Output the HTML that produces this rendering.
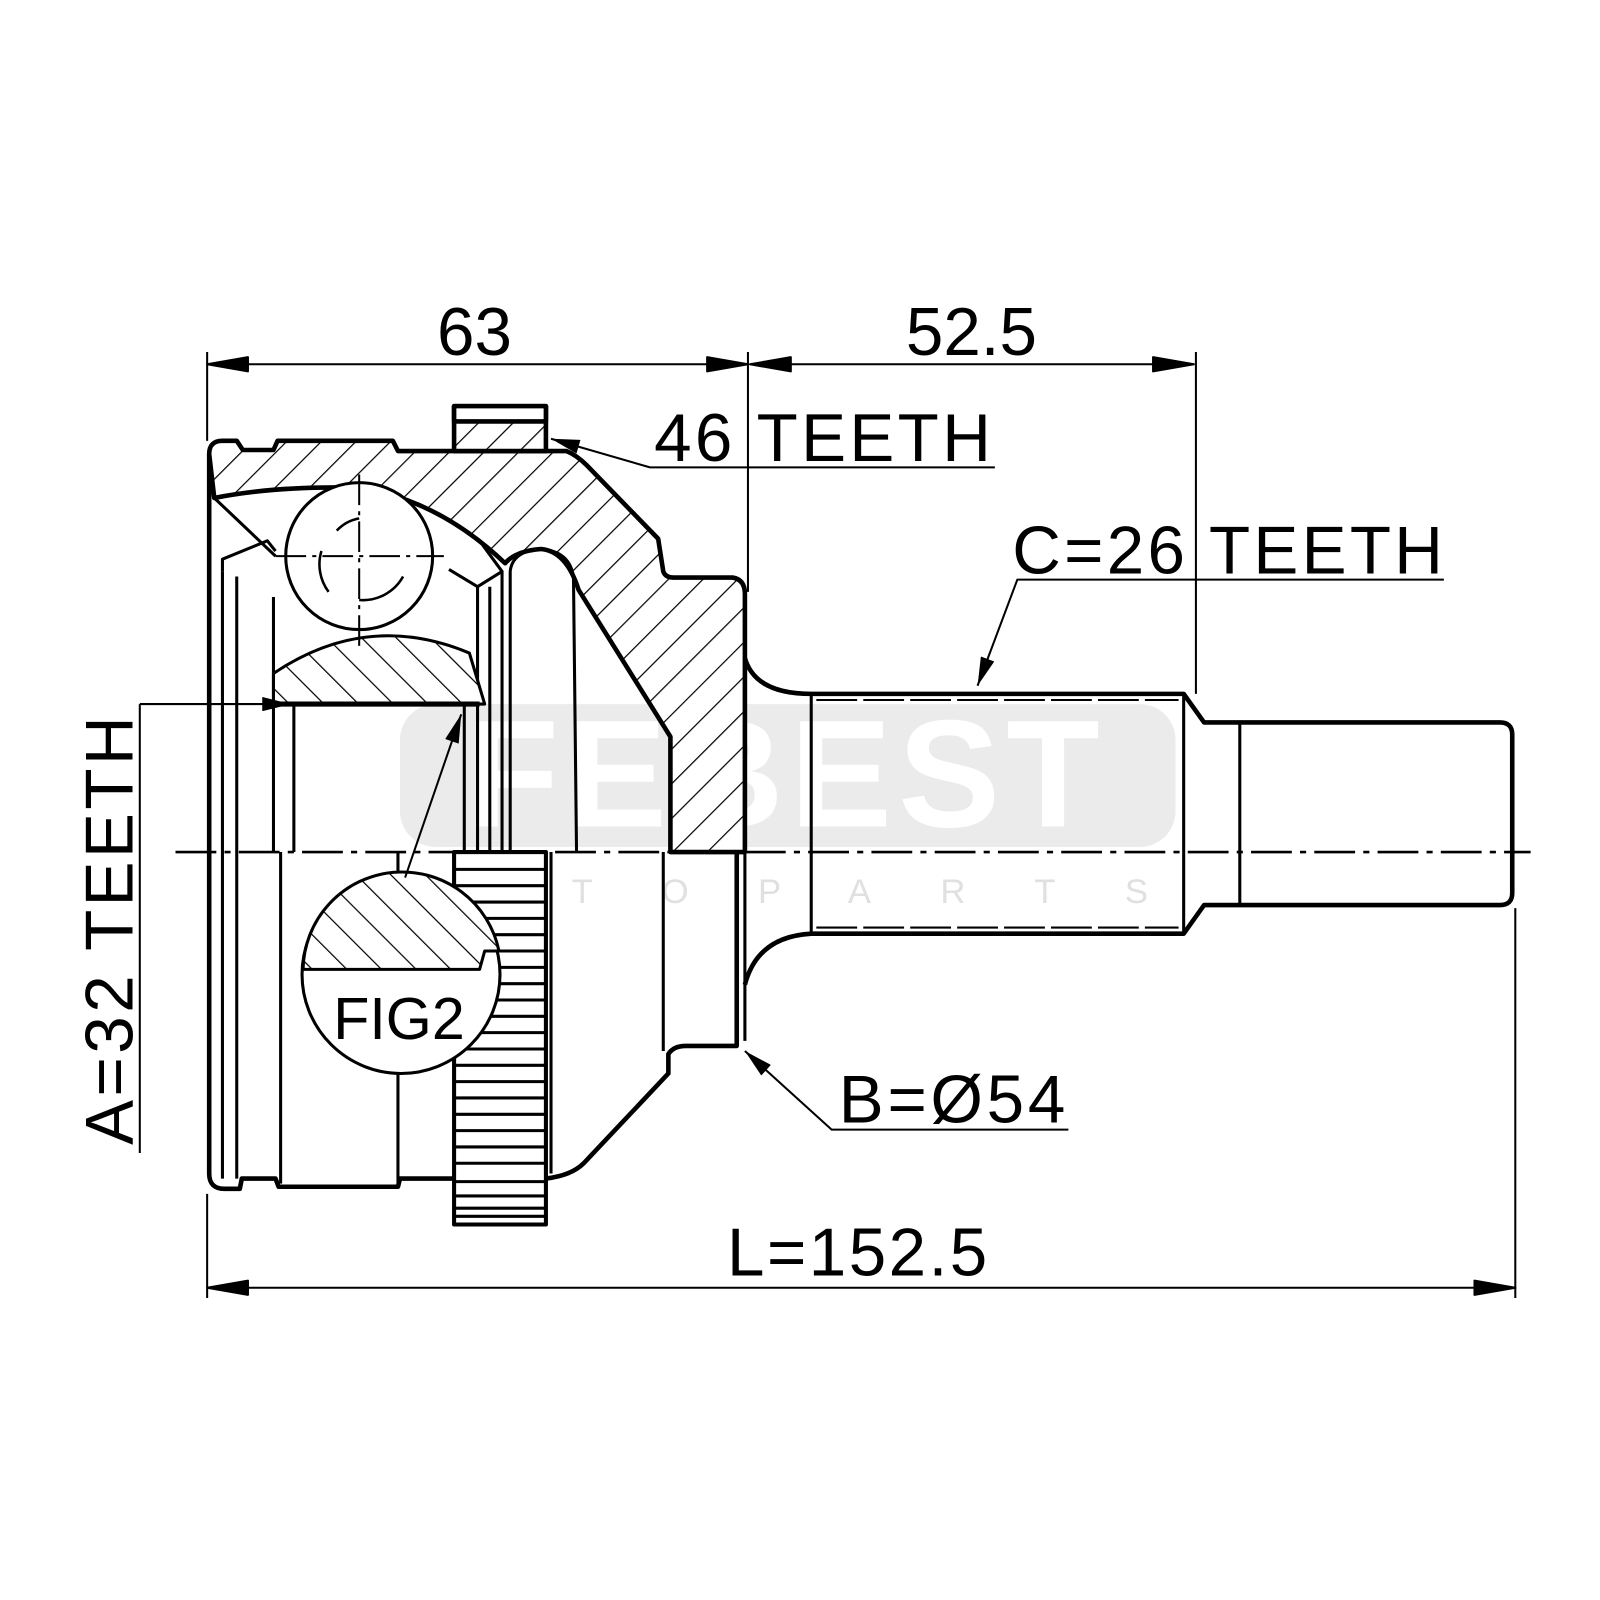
<!DOCTYPE html>
<html><head><meta charset="utf-8"><style>html,body{margin:0;padding:0;background:#fff}svg{display:block}</style></head>
<body>
<svg width="1600" height="1600" viewBox="0 0 1568 1568" xmlns="http://www.w3.org/2000/svg" font-family="Liberation Sans, Arial, sans-serif">
<defs>
<pattern id="h" patternUnits="userSpaceOnUse" width="24" height="24" patternTransform="rotate(45)">
<rect width="24" height="24" fill="#fff"/><line x1="0" y1="0" x2="0" y2="24" stroke="#000" stroke-width="2.4"/></pattern>
<pattern id="h2" patternUnits="userSpaceOnUse" width="24" height="24" patternTransform="rotate(-45)">
<rect width="24" height="24" fill="#fff"/><line x1="0" y1="0" x2="0" y2="24" stroke="#000" stroke-width="2.4"/></pattern>
<marker id="a" viewBox="0 0 20 10" refX="20" refY="5" markerWidth="40" markerHeight="14" markerUnits="userSpaceOnUse" orient="auto"><path d="M0,0 L20,5 L0,10 Z" fill="#000"/></marker>
</defs>
<rect width="1568" height="1568" fill="#fff"/>
<!-- watermark -->
<g>
<rect x="392" y="690" width="760" height="140" rx="35" fill="#ebebeb"/>
<text x="770" y="810" font-size="150" font-weight="bold" text-anchor="middle" fill="#fff" letter-spacing="6">FEBEST</text>
<text x="785" y="885" font-size="34" text-anchor="middle" fill="#e0e0e0" letter-spacing="68">AUTOPARTS</text>
</g>
<g stroke="#000" fill="none" stroke-width="4.5" stroke-linejoin="round">
<path fill="url(#h)" d="M205,445 Q205,432 218,432 L232,432 L238,441 L268,441 L272,432 L385,432 L390,442 L555,442 Q565,446 575,456 L645,528 L650,560 Q652,566 660,566 L718,566 Q730,568 730,582 L730,835 L657,835 L657,722 L567,578 Q555,540 530,538 Q505,540 495,552 Q430,490 352,478 Q270,476 210,488 Z"/>
<rect x="445" y="398" width="90" height="44" fill="url(#h)"/>
<rect x="445" y="398" width="90" height="15" fill="#fff"/>
<path d="M205,445 L205,1150 Q205,1165 220,1165 L235,1165 L237,1155 L270,1155 L273,1163 L390,1163 L392,1155 L445,1155"/>
<path d="M535,1155 Q560,1152 572,1140 L655,1052 L655,1033 Q660,1025 672,1025 L722,1025 L722,835"/>
<path d="M730,835 L730,1020" stroke-width="3"/>
<path d="M730,645 Q740,680 795,680 L1160,680 L1180,708 L1470,708 Q1482,708 1482,720 L1482,875 Q1482,887 1470,887 L1180,887 L1160,915 L795,915 Q742,918 730,965"/>
<path d="M795,680 L795,915 M1160,680 L1160,915 M1215,708 L1215,887" stroke-width="3"/>
<path d="M800,686 L1155,686 M800,909 L1155,909" stroke-width="2" stroke-dasharray="40 6"/>
<path d="M218,560 L218,1155 M232,565 L232,1155 M268,585 L268,835 M275,835 L275,1160 M288,690 L288,835 M390,835 L390,1160 M455,690 L455,835 M468,575 L468,835 M480,575 L480,835 M492,560 L492,835 M540,835 L540,1150 M650,835 L650,1030" stroke-width="3"/>
<path d="M500,835 L500,560 Q502,540 530,538 Q558,540 562,565 L565,835" stroke-width="3"/>
<path d="M218,560 L218,548 L262,530 L270,540 M210,488 L270,545 M470,530 L492,560 L468,575 L440,558" stroke-width="3"/>
<path fill="url(#h2)" d="M268,660 Q360,598 460,640 L475,690 L268,690 Z" stroke-width="3"/>
<path d="M262,690 L470,690" stroke-width="5"/>
<circle cx="352" cy="545" r="72" fill="#fff" stroke-width="3"/>
<path d="M330,520 A40,40 0 0 1 352,508 M322,580 A45,45 0 0 1 315,540 M395,565 A45,45 0 0 1 352,588" stroke-width="2.5"/>
<path d="M270,545 L435,545 M352,465 L352,635" stroke-width="2" stroke-dasharray="30 6 4 6"/>
<rect x="445" y="835" width="90" height="365" fill="#fff" stroke-width="4"/>
<g stroke-width="3">
<path d="M445,852H535M445,868H535M445,884H535M445,900H535M445,916H535M445,932H535M445,948H535M445,964H535M445,980H535M445,996H535M445,1012H535M445,1028H535M445,1044H535M445,1060H535M445,1076H535M445,1092H535M445,1108H535M445,1124H535M445,1140H535M445,1158H535M445,1172H535M445,1184H535M445,1192H535"/>
</g>
<circle cx="393" cy="955" r="97" fill="#fff" stroke-width="3"/>
<path fill="url(#h2)" stroke-width="3" d="M297,950 A97,97 0 0 1 489,932 L475,932 L470,950 Z"/>
<line x1="397" y1="860" x2="452" y2="700" stroke-width="2" marker-end="url(#a)"/>
<path d="M172,835 L1500,835" stroke-width="2.5" stroke-dasharray="40 8 6 8"/>
<g stroke-width="2">
<path d="M203,345 L203,432 M733,345 L733,580 M1172,345 L1172,680 M203,1170 L203,1272 M1485,890 L1485,1272 M137,690 L137,1130"/>
<path d="M203,357 l40,-7 l0,14 z M733,357 l-40,-7 l0,14 z M735,357 l40,-7 l0,14 z M1170,357 l-40,-7 l0,14 z M203,1262 l40,-7 l0,14 z M1485,1262 l-40,-7 l0,14 z" fill="#000"/>
<line x1="203" y1="357" x2="731" y2="357"/>
<line x1="735" y1="357" x2="1170" y2="357"/>
<line x1="203" y1="1262" x2="1485" y2="1262"/>
<path d="M975,458 L637,458 L540,430" marker-end="url(#a)"/>
<path d="M1415,568 L997,568 L958,672" marker-end="url(#a)"/>
<path d="M1047,1107 L815,1107 L730,1030" marker-end="url(#a)"/>
<path d="M137,690 L285,690" marker-end="url(#a)"/>
</g>
</g>
<g font-size="66" fill="#000">
<text x="465" y="348" text-anchor="middle">63</text>
<text x="952" y="348" text-anchor="middle">52.5</text>
<text x="806" y="452" text-anchor="middle" textLength="330">46 TEETH</text>
<text x="1203" y="562" text-anchor="middle" textLength="422">C=26 TEETH</text>
<text x="933" y="1100" text-anchor="middle" textLength="222">B=Ø54</text>
<text x="840" y="1250" text-anchor="middle" textLength="255">L=152.5</text>
<text transform="translate(130,912) rotate(-90)" text-anchor="middle" textLength="420">A=32 TEETH</text>
<text x="391" y="1018" text-anchor="middle" font-size="58">FIG2</text>
</g>
</svg>
</body></html>
